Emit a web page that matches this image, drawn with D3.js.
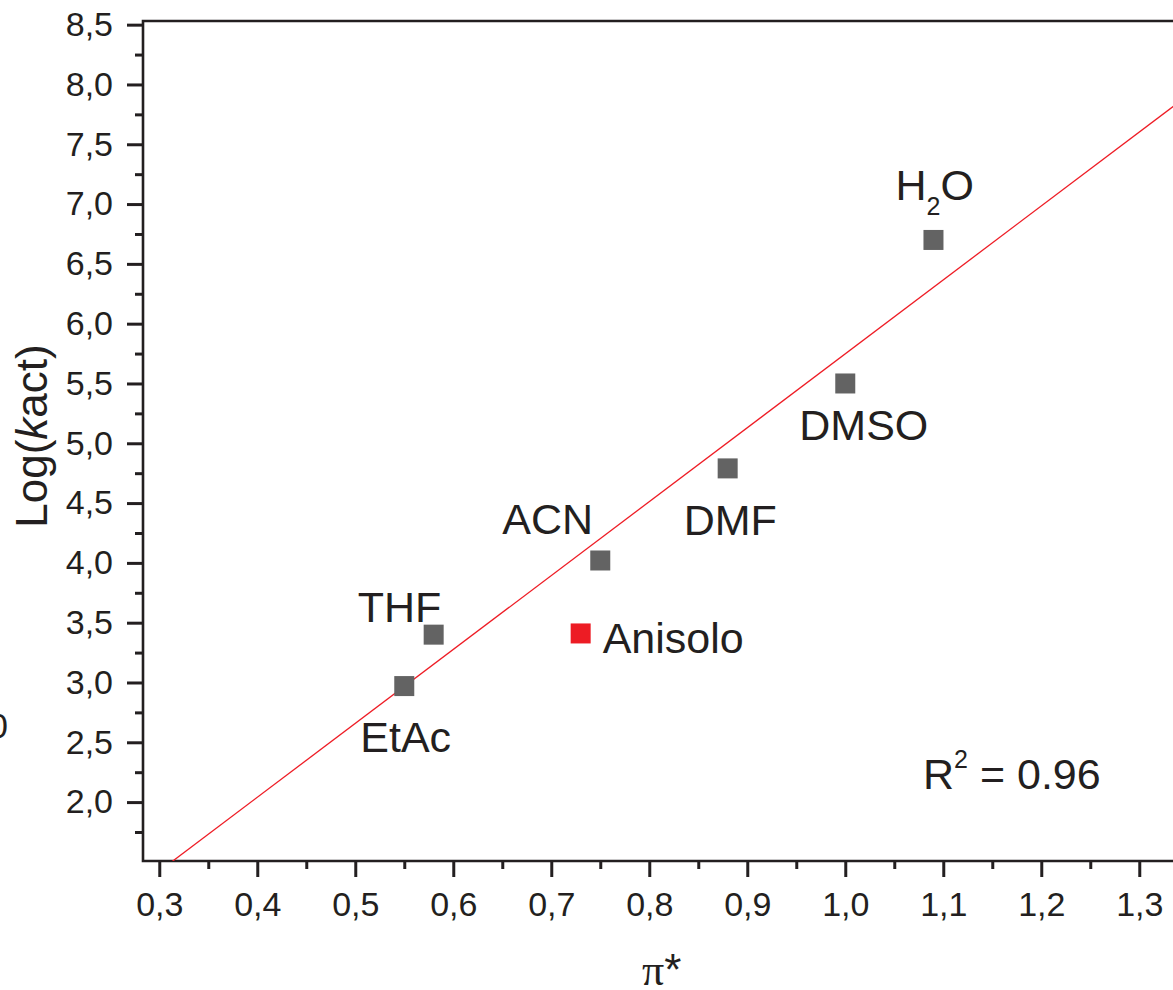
<!DOCTYPE html>
<html>
<head>
<meta charset="utf-8">
<script src="https://cdn.jsdelivr.net/npm/d3@7"></script>
<style>
  html, body { margin: 0; padding: 0; background: #fff; overflow: hidden; }
  svg { display: block; }
  text { font-family: "Liberation Sans", Arial, sans-serif; fill: #231f20; }
</style>
</head>
<body>
<div id="chart"></div>
<script>
// datos
const solvents = ['EtAc', 'THF', 'Anisolo', 'ACN', 'DMF', 'DMSO', 'H2O'];
const piStar = [0.55, 0.58, 0.73, 0.75, 0.88, 1.00, 1.09];
const logKact = [2.97, 3.40, 3.41, 4.02, 4.79, 5.50, 6.70];
const pointColor = ['#636363', '#636363', '#ed1c24', '#636363', '#636363', '#636363', '#636363'];

const xTicks = [0.3, 0.4, 0.5, 0.6, 0.7, 0.8, 0.9, 1.0, 1.1, 1.2, 1.3];
const yTicks = [2.0, 2.5, 3.0, 3.5, 4.0, 4.5, 5.0, 5.5, 6.0, 6.5, 7.0, 7.5, 8.0, 8.5];

// recta de ajuste
const fitSlope = 6.18;
const fitIntercept = -0.432;
const r2Label = '0.96';

// donde va cada etiqueta respecto a su punto (px)
const labelOffset = {
  EtAc: [-44, 66],
  THF: [-76, -13],
  Anisolo: [22, 20],
  ACN: [-98, -26],
  DMF: [-44, 67],
  DMSO: [-46, 57],
  H2O: [-38, -40]
};

const W = 1173, H = 990;
const plotLeft = 143, plotTop = 21, plotBottom = 861;

const svg = d3.select('#chart').append('svg')
    .attr('width', W)
    .attr('height', H);

const x = d3.scaleLinear()
    .domain([0.2834, 1.36])
    .range([plotLeft, plotLeft + (1.36 - 0.2834) * 980]);

const y = d3.scaleLinear()
    .domain([1.5075, 8.5306])
    .range([plotBottom, plotTop]);

const fmt = d => d.toFixed(1).replace('.', ',');

// ticks menores
const xMinor = d3.range(0.35, 1.36, 0.1);
const yMinor = d3.range(1.75, 8.5, 0.5);

svg.append('g')
    .attr('transform', `translate(0,${plotBottom})`)
    .call(d3.axisBottom(x).tickValues(xMinor).tickSize(8).tickFormat(''))
    .call(g => g.select('.domain').remove())
    .call(g => g.selectAll('line').attr('stroke', '#231f20').attr('stroke-width', 3));

svg.append('g')
    .attr('transform', `translate(${plotLeft},0)`)
    .call(d3.axisLeft(y).tickValues(yMinor).tickSize(8).tickFormat(''))
    .call(g => g.select('.domain').remove())
    .call(g => g.selectAll('line').attr('stroke', '#231f20').attr('stroke-width', 3));

const xAxis = svg.append('g')
    .attr('transform', `translate(0,${plotBottom})`)
    .call(d3.axisBottom(x).tickValues(xTicks).tickSize(16).tickPadding(15).tickFormat(fmt));
xAxis.select('.domain').remove();
xAxis.selectAll('line').attr('stroke', '#231f20').attr('stroke-width', 3);
xAxis.selectAll('text').attr('font-size', 34).attr('font-family', '"Liberation Sans", Arial, sans-serif').attr('fill', '#231f20');

const yAxis = svg.append('g')
    .attr('transform', `translate(${plotLeft},0)`)
    .call(d3.axisLeft(y).tickValues(yTicks).tickSize(16).tickPadding(14).tickFormat(fmt));
yAxis.select('.domain').remove();
yAxis.selectAll('line').attr('stroke', '#231f20').attr('stroke-width', 3);
yAxis.selectAll('text').attr('font-size', 34).attr('font-family', '"Liberation Sans", Arial, sans-serif').attr('fill', '#231f20');

// marco: izquierda, abajo y arriba
svg.append('path')
    .attr('d', `M${W + 10},${y.range()[1]}H${plotLeft}V${plotBottom}H${W + 10}`)
    .attr('fill', 'none')
    .attr('stroke', '#231f20')
    .attr('stroke-width', 2.6);

// recta roja (recortada al area)
svg.append('clipPath').attr('id', 'area')
  .append('rect')
    .attr('x', plotLeft).attr('y', plotTop)
    .attr('width', W).attr('height', plotBottom - plotTop);

const x0 = 0.29, x1 = 1.4;
svg.append('line')
    .attr('clip-path', 'url(#area)')
    .attr('x1', x(x0)).attr('y1', y(fitSlope * x0 + fitIntercept))
    .attr('x2', x(x1)).attr('y2', y(fitSlope * x1 + fitIntercept))
    .attr('stroke', '#ee1c25')
    .attr('stroke-width', 1.3);

// puntos
const pts = solvents.map((s, i) => ({ name: s, px: piStar[i], ly: logKact[i], color: pointColor[i] }));
const sq = 20;

svg.selectAll('rect.pt')
    .data(pts)
    .enter()
    .append('rect')
    .attr('class', 'pt')
    .attr('x', d => x(d.px) - sq / 2)
    .attr('y', d => y(d.ly) - sq / 2)
    .attr('width', sq)
    .attr('height', sq)
    .attr('fill', d => d.color);

// etiquetas
pts.forEach(d => {
  const off = labelOffset[d.name];
  const t = svg.append('text')
      .attr('x', x(d.px) + off[0])
      .attr('y', y(d.ly) + off[1])
      .attr('font-size', 43);
  if (d.name === 'H2O') {
    t.append('tspan').text('H');
    t.append('tspan').attr('font-size', 25).attr('dy', 15).text('2');
    t.append('tspan').attr('dy', -15).text('O');
  } else {
    t.text(d.name);
  }
});

// R2
const r2 = svg.append('text')
    .attr('x', 923)
    .attr('y', 789)
    .attr('font-size', 43);
r2.append('tspan').text('R');
r2.append('tspan').attr('font-size', 25).attr('dy', -21).text('2');
r2.append('tspan').attr('dy', 21).text(' = ' + r2Label);

// titulos de ejes
const yt = svg.append('text')
    .attr('transform', 'translate(47,436) rotate(-90)')
    .attr('text-anchor', 'middle')
    .attr('font-size', 44);
yt.append('tspan').text('Log(');
yt.append('tspan').attr('font-style', 'italic').text('k');
yt.append('tspan').text('act)');

const xt = svg.append('text')
    .attr('x', 642)
    .attr('y', 985)
    .attr('font-size', 44);
xt.append('tspan').attr('font-family', '"Liberation Serif", "Times New Roman", serif').text('π');
xt.append('tspan').text('*');

// trozo de letra cortado en el borde izquierdo
svg.append('text')
    .attr('x', 8)
    .attr('y', 738)
    .attr('text-anchor', 'end')
    .attr('font-size', 35)
    .text('0');
</script>
</body>
</html>
